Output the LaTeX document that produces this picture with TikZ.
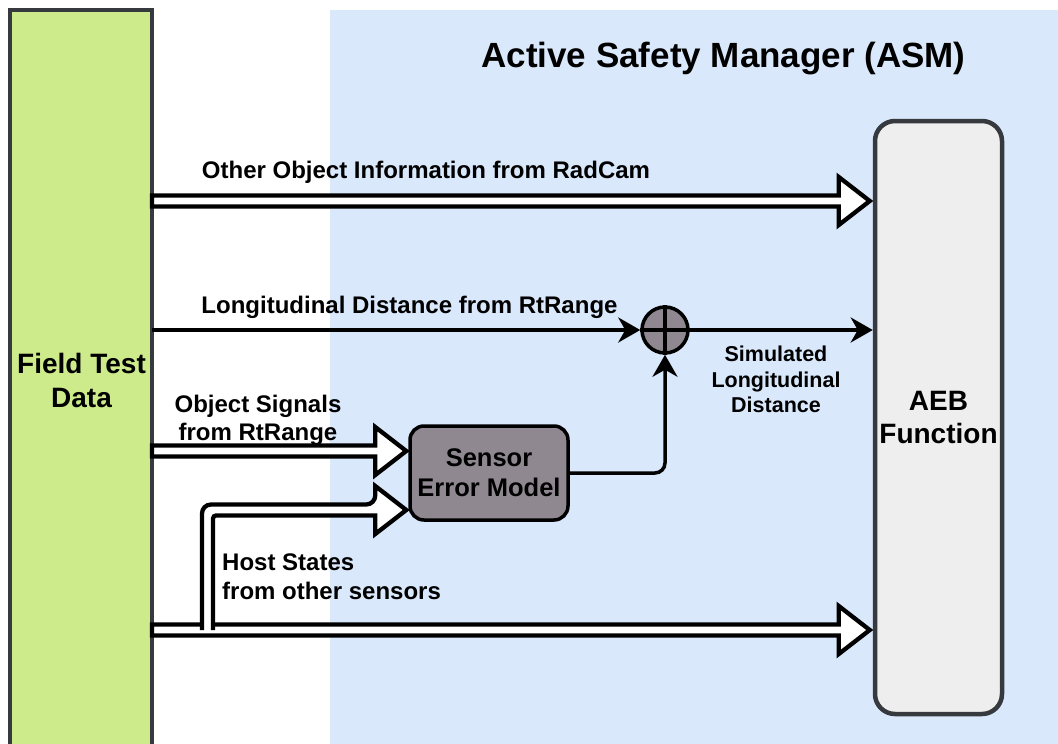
\documentclass[tikz,border=0pt]{standalone}
\usepackage{fontspec}
\setmainfont{Liberation Sans}
\usetikzlibrary{arrows.meta,calc}

\definecolor{ftdgreen}{HTML}{CDEB8B}
\definecolor{asmblue}{HTML}{DAE8FC}
\definecolor{aebgray}{HTML}{EEEEEE}
\definecolor{edgegray}{HTML}{36393D}
\definecolor{modelfill}{HTML}{8F8891}

% wide hollow arrow from #1 to #2 (both named coordinates, same height)
\newcommand\hollowarrow[2]{%
  \draw[hollow] let \p1=(#1), \p2=(#2) in
    (\x1,{\y1+5.5pt}) -- ({\x2-31pt},{\y1+5.5pt}) -- ({\x2-31pt},{\y1+24pt})
    -- (\x2,\y1) -- ({\x2-31pt},{\y1-24pt}) -- ({\x2-31pt},{\y1-5.5pt})
    -- (\x1,{\y1-5.5pt}) -- cycle;}

\begin{document}
\begin{tikzpicture}[x=1pt,y=-1pt,
  lbl/.style={font=\fontsize{24}{28}\selectfont\bfseries, inner sep=0pt, align=center},
  smalllbl/.style={font=\fontsize{21.5}{25.5}\selectfont\bfseries, inner sep=0pt, align=center},
  bigbox/.style={draw=edgegray, line width=4.5pt, inner sep=0pt},
  hollow/.style={draw=black, line width=4.3pt, fill=white, line join=miter},
  signal/.style={draw=black, line width=3.5pt,
    -{Stealth[length=22pt,width=25pt,inset=7pt]}},
]
\useasboundingbox (0,0) rectangle (1058,744);

% ASM area
\fill[asmblue] (330,10) rectangle (1058,744);

% field test data column (runs off the bottom)
\node[bigbox, fill=ftdgreen, minimum width=142pt, minimum height=760pt] (ftd) at (81,390) {};
\node[lbl, font=\fontsize{28}{34}\selectfont\bfseries] (ftdtext) at (81.5,380) {Field Test\\Data};

% AEB function block
\node[bigbox, fill=aebgray, rounded corners=20pt, minimum width=127pt, minimum height=593pt,
      font=\fontsize{28}{33}\selectfont\bfseries, align=center] (aeb) at (938.5,417.5) {AEB\\Function};

% title
\node[inner sep=0pt, font=\fontsize{35}{40}\selectfont\bfseries] (title) at (723.5,59) {Active Safety Manager (ASM)};

% sensor error model and summing junction
\node[draw=black, line width=3.5pt, fill=modelfill, rounded corners=14pt,
      minimum width=158pt, minimum height=94pt, inner sep=0pt, align=center,
      font=\fontsize{25.5}{30}\selectfont\bfseries] (sem) at (489,473) {Sensor\\Error Model};
\node[draw=black, line width=3.5pt, fill=modelfill, circle, minimum size=46pt, inner sep=0pt] (sum) at (665,330) {};
\draw[line width=3.5pt] (sum.north) -- (sum.south) (sum.west) -- (sum.east);

% start and end points of the wide arrows
\coordinate (radcam) at (152,201);
\coordinate (radcamend) at ($(aeb.west |- radcam)+(-3,0)$);
\coordinate (objsig) at (152,451);
\coordinate (objsigend) at ($(sem.west |- objsig)+(-2,0)$);
\coordinate (host) at (152,630);
\coordinate (hostend) at ($(aeb.west |- host)+(-3,0)$);
\coordinate (hostfork) at (207.5,630);
\coordinate (hostin) at ($(sem.west)+(-2,37)$);
\coordinate (rtrange) at (152,330);

\hollowarrow{radcam}{radcamend}
\hollowarrow{objsig}{objsigend}
\hollowarrow{host}{hostend}

% host states branch up to the sensor error model
\draw[hollow] let \p1=(hostfork), \p2=(hostin) in
  ({\x1-5.5pt},\y1) [rounded corners=9pt] -- ({\x1-5.5pt},{\y2+5.5pt}) -- ({\x2-31pt},{\y2+5.5pt}) [sharp corners]
  -- ({\x2-31pt},{\y2+24pt}) -- (\x2,\y2) -- ({\x2-31pt},{\y2-24pt}) -- ({\x2-31pt},{\y2-5.5pt})
  [rounded corners=3pt] -- ({\x1+5.5pt},{\y2-5.5pt}) -- ({\x1+5.5pt},\y1);

% scalar signal lines
\draw[signal] (rtrange) -- (sum.west);
\draw[signal] (sum.east) -- (sum.east -| aeb.west);
\draw[signal, rounded corners=10pt] (sem.east) -| (sum.south);

% labels
\node[lbl] (radcamlbl) at (426,172) {Other Object Information from RadCam};
\node[lbl] (rtrangelbl) at (409.5,307.5) {Longitudinal Distance from RtRange};
\node[lbl] (objsiglbl) at (258,420) {Object Signals\\from RtRange};
\node[lbl, anchor=west, align=left, font=\fontsize{24}{29}\selectfont\bfseries] (hostlbl) at (222,577) {Host States\\from other sensors};
\node[smalllbl] (simlbl) at (776,379.5) {Simulated\\Longitudinal\\Distance};
\end{tikzpicture}
\end{document}
